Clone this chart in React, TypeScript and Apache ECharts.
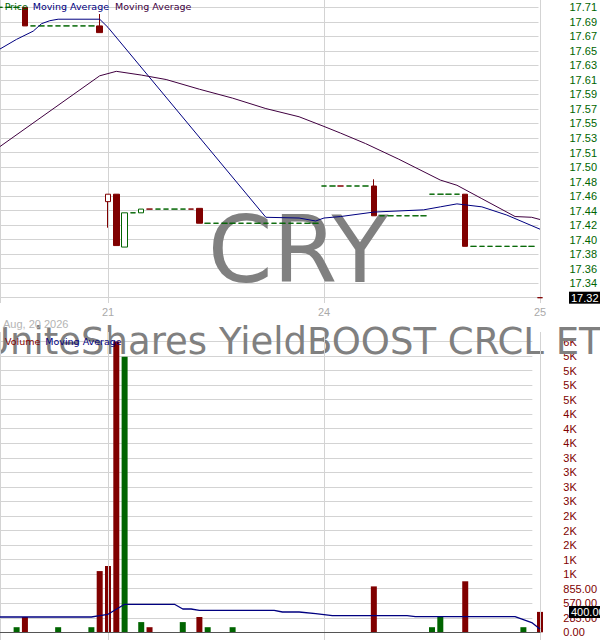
import React, { useEffect, useRef } from 'react';
import * as echarts from 'echarts';

// 15-minute session slots
const sessionDays = ['2026-08-20', '2026-08-21', '2026-08-24', '2026-08-25'];
const sessionTimes = [
  '09:30', '09:45', '10:00', '10:15', '10:30', '10:45', '11:00', '11:15', '11:30',
  '11:45', '12:00', '12:15', '12:30', '12:45', '13:00', '13:15', '13:30', '13:45',
  '14:00', '14:15', '14:30', '14:45', '15:00', '15:15', '15:30', '15:45',
];

const categories: string[] = [
  ...sessionTimes.slice(13).map((t) => `${sessionDays[0]} ${t}`),
  ...sessionTimes.map((t) => `${sessionDays[1]} ${t}`),
  ...sessionTimes.map((t) => `${sessionDays[2]} ${t}`),
  `${sessionDays[3]} ${sessionTimes[0]}`,
];

// [open, close, low, high]; a single number is a slot with no range
const priceBars: (number | [number, number, number, number])[] = [
  17.71, 17.71, 17.71, [17.71, 17.685, 17.685, 17.71],
  17.685, 17.685, 17.685, 17.685, 17.685, 17.685, 17.685, 17.685,
  [17.685, 17.676, 17.676, 17.701],
  [17.449, 17.459, 17.414, 17.459],
  [17.459, 17.39, 17.39, 17.459],
  [17.388, 17.434, 17.388, 17.434],
  17.434,
  [17.434, 17.439, 17.434, 17.439],
  17.439, 17.439, 17.439, 17.439, 17.439, 17.439,
  [17.44, 17.42, 17.42, 17.44],
  17.42, 17.42, 17.42, 17.42, 17.42, 17.42, 17.42,
  17.42, 17.42, 17.42, 17.42, 17.42, 17.42, 17.42,
  17.47, 17.47, 17.47, 17.47, 17.47, 17.47,
  [17.47, 17.43, 17.43, 17.479],
  17.43, 17.43, 17.43, 17.43, 17.43, 17.43,
  17.459, 17.459, 17.459, 17.459,
  [17.459, 17.389, 17.389, 17.459],
  17.389, 17.389, 17.389, 17.389, 17.389, 17.389, 17.389, 17.389,
  17.32,
];

// u = uptick, d = downtick
const tickDirection =
  'uuuduuuuuu' + 'uuddduuudu' + 'uuudduuuuu' + 'uuuuuuuuuu' +
  'uduuuduuuu' + 'uuuuuuduuu' + 'uuuuud';

const volumes = [
  0, 0, 100, 300, 0, 0, 0, 100, 0, 0,
  0, 100, 1200, 1300, 5700, 5400, 0, 200, 100, 0,
  0, 0, 200, 0, 300, 100, 0, 0, 100, 0,
  0, 0, 0, 0, 0, 0, 0, 0, 0, 0,
  0, 0, 0, 0, 0, 900, 0, 0, 0, 0,
  0, 0, 100, 300, 0, 0, 1000, 0, 0, 0,
  0, 0, 0, 100, 0, 400,
];

// [slot, value]
const fastAverage: [number, number][] = [
  [0, 17.654], [2, 17.667], [4, 17.678], [5, 17.688], [6, 17.692], [7, 17.694],
  [12, 17.694], [13, 17.683], [32, 17.428], [36, 17.427], [38, 17.423], [39, 17.427],
  [41, 17.429], [45, 17.435], [51, 17.438], [53, 17.442], [55, 17.446], [58, 17.442],
  [61, 17.431], [65, 17.412],
];
const slowAverage: [number, number][] = [
  [0, 17.523], [12, 17.618], [14, 17.624], [17, 17.619], [20, 17.613], [24, 17.6],
  [28, 17.588], [32, 17.574], [36, 17.563], [39, 17.55], [41, 17.541], [44, 17.527],
  [48, 17.506], [53, 17.478], [55, 17.471], [58, 17.453], [62, 17.429], [64, 17.428],
  [65, 17.425],
];
const volumeAverage: [number, number][] = [
  [0, 300], [11, 300], [12, 325], [13, 353], [14, 451], [15, 549], [21, 549],
  [22, 457], [23, 457], [24, 431], [33, 431], [34, 398], [36, 398], [38, 365],
  [40, 325], [49, 325], [50, 306], [62, 306], [63, 250], [64, 190], [65, 65],
];

const priceMin = 17.32;
const priceMax = 17.71;
const priceStep = 0.0195;
const volumeMax = 5700;
const volumeStep = 285;

const RED = '#800000';
const GREEN = '#006400';
const NAVY = '#000080';
const PURPLE = '#400040';
const GRID = '#d3d3d3';
const FONT = 'Liberation Sans';

// panel geometry (px)
const plotWidth = 540;
const priceTop = 0;
const priceTickTop = 7.3;
const priceTickBottom = 297.7;
const priceBottom = 303;
const volTop = 332;
const volTickTop = 341.5;
const volZero = 632.3;
const volBottom = 640;

const pricePx = (priceTickBottom - priceTickTop) / (priceMax - priceMin);
const priceAxisMax = priceMax + (priceTickTop - priceTop) / pricePx;
const priceAxisMin = priceMin - (priceBottom - priceTickBottom) / pricePx;
const volPx = (volZero - volTickTop) / volumeMax;
const volAxisMax = volumeMax + (volTickTop - volTop) / volPx;
const volAxisMin = -(volBottom - volZero) / volPx;

const isSessionOpen = (_i: number, value: string) => value.endsWith(sessionTimes[0]);
const isDivider = (i: number) => i === 0 || categories[i].endsWith(sessionTimes[0]);

// ticks land on half cents, the feed rounds them down
const priceLabel = (v: number) => (v - 1e-9).toFixed(2);

const legendText = (x: number, y: number, text: string, fill: string) => ({
  type: 'text',
  x,
  y,
  z: 10,
  silent: true,
  style: {
    text,
    fill,
    font: '9.5px "DejaVu Sans"',
    textVerticalAlign: 'middle',
    verticalAlign: 'middle',
  },
});

export default function App() {
  const chartRef = useRef<HTMLDivElement>(null);

  useEffect(() => {
    document.body.style.margin = '0';
    if (!chartRef.current) return;
    const chart = echarts.init(chartRef.current, undefined, { renderer: 'svg' });

    const candles = priceBars.map((bar, i) => {
      const [open, close, low, high] =
        typeof bar === 'number' ? [bar, bar, bar, bar] : bar;
      const c = tickDirection[i] === 'd' ? RED : GREEN;
      const fill = close > open ? '#ffffff' : c;
      return {
        value: [open, close, low, high],
        itemStyle: {
          color: fill,
          color0: fill,
          borderColor: c,
          borderColor0: c,
          borderColorDoji: c,
          borderWidth: 1,
        },
      };
    });

    const volumeBars = volumes.map((v, i) => ({
      value: v,
      itemStyle: { color: tickDirection[i] === 'd' ? RED : GREEN },
    }));

    const lastClose = candles[candles.length - 1].value[1];
    const lastVolume = volumes[volumes.length - 1];

    const lastValueMark = (value: number, fmt: (v: number) => string) => ({
      silent: true,
      symbol: ['none', 'none'],
      lineStyle: { color: 'rgba(0,0,0,0)', width: 1, type: 'solid' },
      label: {
        show: true,
        position: 'end',
        distance: 29,
        formatter: (p: any) => fmt(p.value),
        color: '#ffffff',
        backgroundColor: '#000000',
        padding: [1, 2, 0, 2],
        fontFamily: FONT,
        fontSize: 11,
        lineHeight: 11,
      },
      data: [{ yAxis: value }],
    });

    const option = {
      animation: false,
      backgroundColor: '#ffffff',
      textStyle: { fontFamily: FONT },
      grid: [
        { left: 0, top: priceTop, width: plotWidth, height: priceBottom - priceTop },
        { left: 0, top: priceTickTop, width: plotWidth, height: priceTickBottom - priceTickTop },
        { left: 0, top: volTop, width: plotWidth, height: volBottom - volTop },
        { left: 0, top: volTickTop, width: plotWidth, height: volZero - volTickTop },
      ],
      xAxis: [
        {
          gridIndex: 0,
          type: 'category',
          data: categories,
          boundaryGap: false,
          axisLine: { show: false },
          axisTick: { show: false },
          axisLabel: {
            interval: isSessionOpen,
            formatter: (v: string) => String(Number(v.slice(8, 10))),
            color: '#aaaaaa',
            fontFamily: FONT,
            fontSize: 11,
            margin: 3,
          },
          splitLine: { show: true, interval: isDivider, lineStyle: { color: GRID } },
        },
        { gridIndex: 1, type: 'category', data: categories, show: false },
        {
          gridIndex: 2,
          type: 'category',
          data: categories,
          boundaryGap: false,
          position: 'top',
          z: 3,
          axisLine: { show: true, lineStyle: { color: '#555555' } },
          axisTick: { show: false },
          axisLabel: { show: false },
          splitLine: { show: true, interval: isDivider, lineStyle: { color: GRID } },
        },
        { gridIndex: 3, type: 'category', data: categories, show: false },
      ],
      yAxis: [
        { gridIndex: 0, type: 'value', min: priceAxisMin, max: priceAxisMax, show: false },
        {
          gridIndex: 1,
          type: 'value',
          position: 'right',
          min: priceMin,
          max: priceMax,
          interval: priceStep,
          axisLine: { show: false },
          axisTick: { show: false },
          axisLabel: {
            margin: 31,
            color: GREEN,
            fontFamily: FONT,
            fontSize: 11,
            formatter: priceLabel,
          },
          splitLine: { show: true, lineStyle: { color: GRID } },
        },
        { gridIndex: 2, type: 'value', min: volAxisMin, max: volAxisMax, show: false },
        {
          gridIndex: 3,
          type: 'value',
          position: 'right',
          min: 0,
          max: volumeMax,
          interval: volumeStep,
          axisLine: { show: false },
          axisTick: { show: false },
          axisLabel: {
            margin: 31,
            color: RED,
            fontFamily: FONT,
            fontSize: 11,
            formatter: (v: number) =>
              v >= 1000 ? `${Math.round(v / 1000)}K` : v.toFixed(2),
          },
          splitLine: { show: true, lineStyle: { color: GRID } },
        },
      ],
      series: [
        {
          name: 'Price',
          type: 'candlestick',
          xAxisIndex: 0,
          yAxisIndex: 0,
          barWidth: 6,
          clip: false,
          data: candles,
          markLine: lastValueMark(lastClose, priceLabel),
        },
        {
          name: 'Moving Average',
          type: 'line',
          xAxisIndex: 0,
          yAxisIndex: 0,
          showSymbol: false,
          symbol: 'none',
          lineStyle: { color: NAVY, width: 1 },
          data: fastAverage,
        },
        {
          name: 'Moving Average 2',
          type: 'line',
          xAxisIndex: 0,
          yAxisIndex: 0,
          showSymbol: false,
          symbol: 'none',
          lineStyle: { color: PURPLE, width: 1 },
          data: slowAverage,
        },
        {
          name: 'Volume',
          type: 'bar',
          xAxisIndex: 2,
          yAxisIndex: 2,
          barWidth: 6,
          clip: false,
          data: volumeBars,
          markLine: lastValueMark(lastVolume, (v) => v.toFixed(2)),
        },
        {
          name: 'Volume Moving Average',
          type: 'line',
          xAxisIndex: 2,
          yAxisIndex: 2,
          showSymbol: false,
          symbol: 'none',
          lineStyle: { color: NAVY, width: 1.3 },
          data: volumeAverage,
        },
      ],
      graphic: [
        {
          type: 'text',
          x: 298,
          y: 250,
          z: 1,
          silent: true,
          style: {
            text: 'CRY',
            fill: '#808080',
            font: '93px "DejaVu Sans"',
            textAlign: 'center',
            align: 'center',
            textVerticalAlign: 'middle',
            verticalAlign: 'middle',
          },
        },
        {
          type: 'text',
          x: 303,
          y: 341.5,
          z: 1,
          silent: true,
          style: {
            text: 'UniteShares YieldBOOST CRCL ETF',
            fill: '#808080',
            font: '37px "DejaVu Sans"',
            textAlign: 'center',
            align: 'center',
            textVerticalAlign: 'middle',
            verticalAlign: 'middle',
          },
        },
        {
          type: 'text',
          x: 3,
          y: 324,
          z: 10,
          silent: true,
          style: {
            text: 'Aug, 20 2026',
            fill: '#b4b4b4',
            font: `11px "${FONT}"`,
            textVerticalAlign: 'middle',
            verticalAlign: 'middle',
          },
        },
        legendText(4.7, 6.5, 'Price', GREEN),
        legendText(32.7, 6.5, 'Moving Average', NAVY),
        legendText(115, 6.5, 'Moving Average', PURPLE),
        legendText(5, 341, 'Volume', RED),
        legendText(45.3, 341, 'Moving Average', NAVY),
      ],
    };

    chart.setOption(option as any);
    return () => chart.dispose();
  }, []);

  return <div ref={chartRef} style={{ width: 600, height: 640 }} />;
}
